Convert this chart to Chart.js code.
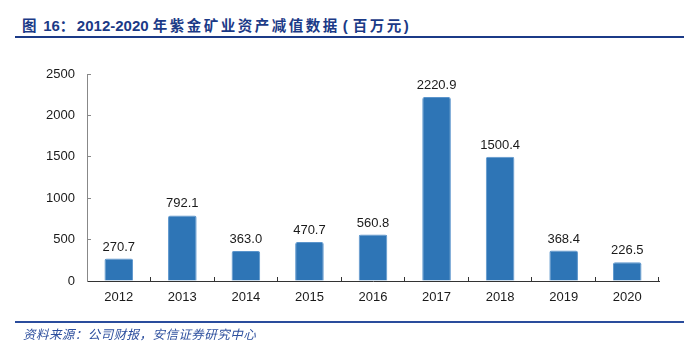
<!DOCTYPE html>
<html><head><meta charset="utf-8">
<script src="https://cdn.jsdelivr.net/npm/chart.js@4.4.0/dist/chart.umd.min.js"></script>
<style>
html,body{margin:0;padding:0;background:#fff;}
#wrap{position:relative;width:698px;height:353px;overflow:hidden;}
#title{position:absolute;left:22px;top:15px;font-family:"Liberation Sans",Arial,sans-serif;font-weight:bold;font-size:15px;line-height:20px;color:#1b3a87;white-space:nowrap;}
#title .cjk{font-family:"Noto Sans CJK SC",sans-serif;letter-spacing:2.5px;font-size:14.5px;}
#title .p{font-family:"Liberation Sans",Arial,sans-serif;font-weight:bold;font-size:15px;}
#line1{position:absolute;left:15px;top:36px;width:669px;height:2px;background:#1b3a87;}
#line2{position:absolute;left:15px;top:321px;width:669px;height:2px;background:#2a4c9c;}
#src{position:absolute;left:23px;top:324px;font-family:"Noto Sans CJK SC",sans-serif;font-style:italic;font-size:12.5px;letter-spacing:0.45px;color:#2d4f9e;white-space:nowrap;}
#cv{position:absolute;left:0;top:0;}
</style></head>
<body><div id="wrap">
<div id="title"><span class="cjk">图</span>&nbsp;16<span class="cjk">：</span>2012-2020 <span class="cjk">年紫金矿业资产减值数据</span><span class="p" style="margin-left:3px;margin-right:5px">(</span><span class="cjk">百万元</span><span class="p">)</span></div>
<div id="line1"></div>
<canvas id="cv" width="698" height="353"></canvas>
<div id="line2"></div>
<div id="src">资料来源：公司财报，安信证券研究中心</div>
</div>
<script>
const categories = ["2012","2013","2014","2015","2016","2017","2018","2019","2020"];
const impairment = [270.7, 792.1, 363.0, 470.7, 560.8, 2220.9, 1500.4, 368.4, 226.5];
const yTicks = [0, 500, 1000, 1500, 2000, 2500];

const labelPlugin = {
  id: 'valLabels',
  afterDatasetsDraw(chart) {
    const ctx = chart.ctx;
    const meta = chart.getDatasetMeta(0);
    ctx.save();
    ctx.font = '13px "Liberation Sans", Arial, sans-serif';
    ctx.fillStyle = '#1a1a1a';
    ctx.textAlign = 'center';
    ctx.textBaseline = 'bottom';
    meta.data.forEach((bar, i) => {
      ctx.fillText(impairment[i].toFixed(1), bar.x, bar.y - 5);
    });
    ctx.restore();
  }
};

new Chart(document.getElementById('cv'), {
  type: 'bar',
  data: {
    labels: categories,
    datasets: [{
      data: impairment,
      backgroundColor: '#2e75b6',
      borderColor: '#5b95cc',
      borderWidth: 1,
      borderRadius: 2,
      borderSkipped: 'bottom',
      categoryPercentage: 0.45,
      barPercentage: 1.0
    }]
  },
  options: {
    responsive: false,
    animation: false,
    events: [],
    layout: { padding: { left: 0, top: 74, right: 39, bottom: 0 } },
    plugins: { legend: { display: false }, tooltip: { enabled: false } },
    scales: {
      x: {
        offset: true,
        afterFit(s) { s.height = 72; },
        grid: { display: true, drawOnChartArea: false, offset: true, tickLength: -4, color: '#333', tickColor: '#333', tickWidth: 1 },
        border: { display: true, color: '#333', width: 1 },
        ticks: { color: '#1a1a1a', font: { size: 13, family: '"Liberation Sans", Arial, sans-serif' }, padding: 13, maxRotation: 0 }
      },
      y: {
        min: 0, max: 2500,
        afterFit(s) { s.width = 87; },
        afterBuildTicks(s) { s.ticks = yTicks.map(v => ({ value: v })); },
        grid: { display: true, drawOnChartArea: false, tickLength: -4, color: '#888', tickColor: '#888' },
        border: { display: true, color: '#888', width: 1 },
        ticks: { color: '#1a1a1a', font: { size: 13, family: '"Liberation Sans", Arial, sans-serif' }, padding: 16, callback: v => String(v) }
      }
    }
  },
  plugins: [labelPlugin]
});
</script>
</body></html>
